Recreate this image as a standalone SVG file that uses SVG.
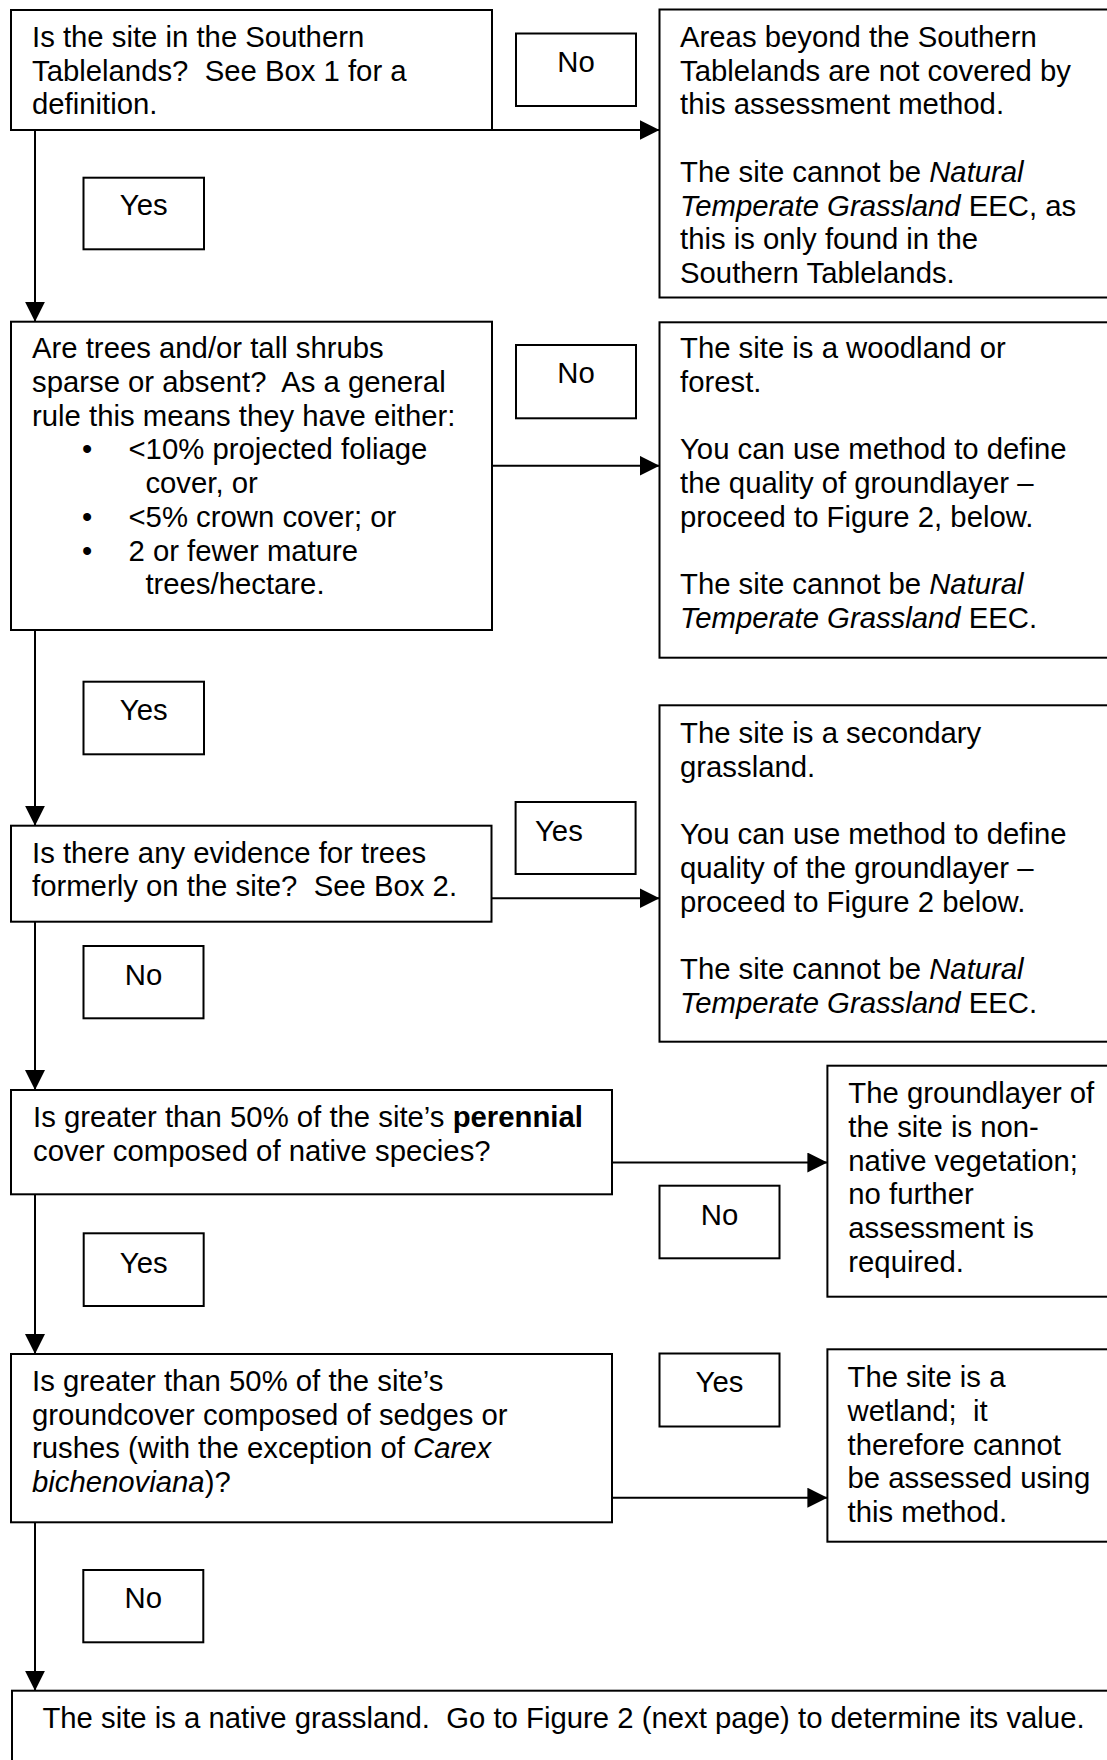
<svg xmlns="http://www.w3.org/2000/svg" width="1107" height="1760" viewBox="0 0 1107 1760">
<style>
.box{fill:#fff;stroke:#000;stroke-width:2}
.lbl{fill:#fff;stroke:#000;stroke-width:2}
.t{font-family:"Liberation Sans",Arial,sans-serif;font-size:29.3px;fill:#000;white-space:pre}
.c{text-anchor:middle}
.i{font-style:italic}
.b{font-weight:bold}
.con{fill:none;stroke:#000;stroke-width:2}
</style>
<defs>
<marker id="ah" markerUnits="userSpaceOnUse" markerWidth="21" markerHeight="21" refX="20" refY="10" orient="auto">
<path d="M0,0 L20,10 L0,20 Z" fill="#000"/>
</marker>
</defs>
<rect x="0" y="0" width="1107" height="1760" fill="#fff"/>

<g id="q1">
<rect class="box" x="11" y="10" width="481" height="120"/>
<text class="t" xml:space="preserve"><tspan x="32" y="47">Is the site in the Southern</tspan><tspan x="32" y="80.7">Tablelands?  See Box 1 for a</tspan><tspan x="32" y="114.4">definition.</tspan></text>
</g>
<g id="r1">
<rect class="box" x="659.5" y="9.5" width="460" height="288"/>
<text class="t" xml:space="preserve"><tspan x="680" y="47">Areas beyond the Southern</tspan><tspan x="680" y="80.7">Tablelands are not covered by</tspan><tspan x="680" y="114.4">this assessment method.</tspan><tspan x="680" y="181.8">The site cannot be <tspan class="i">Natural</tspan></tspan><tspan x="680" y="215.5"><tspan class="i">Temperate Grassland</tspan> EEC, as</tspan><tspan x="680" y="249.2">this is only found in the</tspan><tspan x="680" y="282.9">Southern Tablelands.</tspan></text>
</g>
<g id="lbl-no1">
<rect class="lbl" x="516" y="33.5" width="120" height="72.5"/>
<text class="t c" x="576" y="71.5">No</text>
</g>
<g id="lbl-yes1">
<rect class="lbl" x="83.5" y="177.7" width="120.5" height="71.6"/>
<text class="t c" x="143.7" y="215">Yes</text>
</g>

<g id="q2">
<rect class="box" x="11" y="321.7" width="481" height="308.3"/>
<text class="t" xml:space="preserve"><tspan x="32" y="358.3">Are trees and/or tall shrubs</tspan><tspan x="32" y="392">sparse or absent?  As a general</tspan><tspan x="32" y="425.7">rule this means they have either:</tspan><tspan x="82" y="459.4">•</tspan><tspan x="128.5" y="459.4">&lt;10% projected foliage</tspan><tspan x="145.4" y="493.1">cover, or</tspan><tspan x="82" y="526.8">•</tspan><tspan x="128.5" y="526.8">&lt;5% crown cover; or</tspan><tspan x="82" y="560.5">•</tspan><tspan x="128.5" y="560.5">2 or fewer mature</tspan><tspan x="145.4" y="594.2">trees/hectare.</tspan></text>
</g>
<g id="lbl-no2">
<rect class="lbl" x="516" y="345" width="120" height="73.3"/>
<text class="t c" x="576" y="383.2">No</text>
</g>
<g id="r2">
<rect class="box" x="659.5" y="322.3" width="460" height="335.4"/>
<text class="t" xml:space="preserve"><tspan x="680" y="358.3">The site is a woodland or</tspan><tspan x="680" y="392">forest.</tspan><tspan x="680" y="459.4">You can use method to define</tspan><tspan x="680" y="493.1">the quality of groundlayer –</tspan><tspan x="680" y="526.8">proceed to Figure 2, below.</tspan><tspan x="680" y="594.2">The site cannot be <tspan class="i">Natural</tspan></tspan><tspan x="680" y="627.9"><tspan class="i">Temperate Grassland</tspan> EEC.</tspan></text>
</g>
<g id="lbl-yes2">
<rect class="lbl" x="83.5" y="681.7" width="120.5" height="72.6"/>
<text class="t c" x="143.7" y="720">Yes</text>
</g>

<g id="q3">
<rect class="box" x="11" y="825.7" width="480.5" height="96"/>
<text class="t" xml:space="preserve"><tspan x="32" y="862.7">Is there any evidence for trees</tspan><tspan x="32" y="896.4">formerly on the site?  See Box 2.</tspan></text>
</g>
<g id="lbl-yes3">
<rect class="lbl" x="515.6" y="802" width="120" height="72"/>
<text class="t" x="535" y="840.8">Yes</text>
</g>
<g id="r3">
<rect class="box" x="659.5" y="705.3" width="460" height="336.4"/>
<text class="t" xml:space="preserve"><tspan x="680" y="743.3">The site is a secondary</tspan><tspan x="680" y="777">grassland.</tspan><tspan x="680" y="844.4">You can use method to define</tspan><tspan x="680" y="878.1">quality of the groundlayer –</tspan><tspan x="680" y="911.8">proceed to Figure 2 below.</tspan><tspan x="680" y="979.2">The site cannot be <tspan class="i">Natural</tspan></tspan><tspan x="680" y="1012.9"><tspan class="i">Temperate Grassland</tspan> EEC.</tspan></text>
</g>
<g id="lbl-no3">
<rect class="lbl" x="83.5" y="946" width="120" height="72.3"/>
<text class="t c" x="143.5" y="984.8">No</text>
</g>

<g id="q4">
<rect class="box" x="11" y="1090" width="601" height="104.3"/>
<text class="t" xml:space="preserve"><tspan x="33" y="1127.3">Is greater than 50% of the site’s <tspan class="b">perennial</tspan></tspan><tspan x="33" y="1161">cover composed of native species?</tspan></text>
</g>
<g id="r4">
<rect class="box" x="827.4" y="1065.7" width="300" height="231"/>
<text class="t" xml:space="preserve"><tspan x="848.3" y="1103.3">The groundlayer of</tspan><tspan x="848.3" y="1137">the site is non-</tspan><tspan x="848.3" y="1170.7">native vegetation;</tspan><tspan x="848.3" y="1204.4">no further</tspan><tspan x="848.3" y="1238.1">assessment is</tspan><tspan x="848.3" y="1271.8">required.</tspan></text>
</g>
<g id="lbl-no4">
<rect class="lbl" x="659.5" y="1185.7" width="120" height="72.6"/>
<text class="t c" x="719.5" y="1224.8">No</text>
</g>
<g id="lbl-yes5">
<rect class="lbl" x="83.7" y="1233.3" width="120" height="72.7"/>
<text class="t c" x="143.7" y="1273.2">Yes</text>
</g>

<g id="q5">
<rect class="box" x="11" y="1354" width="601" height="168.3"/>
<text class="t" xml:space="preserve"><tspan x="32" y="1391">Is greater than 50% of the site’s</tspan><tspan x="32" y="1424.7">groundcover composed of sedges or</tspan><tspan x="32" y="1458.4">rushes (with the exception of <tspan class="i">Carex</tspan></tspan><tspan x="32" y="1492.1"><tspan class="i">bichenoviana</tspan>)?</tspan></text>
</g>
<g id="lbl-yes6">
<rect class="lbl" x="659.5" y="1353.5" width="120" height="73"/>
<text class="t c" x="719.5" y="1391.5">Yes</text>
</g>
<g id="r5">
<rect class="box" x="827.4" y="1349.3" width="300" height="192.4"/>
<text class="t" xml:space="preserve"><tspan x="847.5" y="1387.3">The site is a</tspan><tspan x="847.5" y="1421">wetland;  it</tspan><tspan x="847.5" y="1454.7">therefore cannot</tspan><tspan x="847.5" y="1488.4">be assessed using</tspan><tspan x="847.5" y="1521.5">this method.</tspan></text>
</g>
<g id="lbl-no7">
<rect class="lbl" x="83.3" y="1570" width="120" height="72.3"/>
<text class="t c" x="143.3" y="1608.2">No</text>
</g>

<g id="final">
<rect class="box" x="12" y="1690.7" width="1110" height="100"/>
<text class="t" xml:space="preserve" x="42.4" y="1728.3">The site is a native grassland.  Go to Figure 2 (next page) to determine its value.</text>
</g>

<g id="connectors">
<path class="con" d="M492,130 H659.5" marker-end="url(#ah)"/>
<path class="con" d="M35,130 V321.7" marker-end="url(#ah)"/>
<path class="con" d="M492,465.7 H659.5" marker-end="url(#ah)"/>
<path class="con" d="M35,630 V825.7" marker-end="url(#ah)"/>
<path class="con" d="M491.5,898.3 H659.5" marker-end="url(#ah)"/>
<path class="con" d="M35,921.7 V1090" marker-end="url(#ah)"/>
<path class="con" d="M612,1162.5 H827.4" marker-end="url(#ah)"/>
<path class="con" d="M35,1194.3 V1354" marker-end="url(#ah)"/>
<path class="con" d="M611.5,1497.7 H827.4" marker-end="url(#ah)"/>
<path class="con" d="M35,1522.3 V1690.7" marker-end="url(#ah)"/>
</g>
</svg>
